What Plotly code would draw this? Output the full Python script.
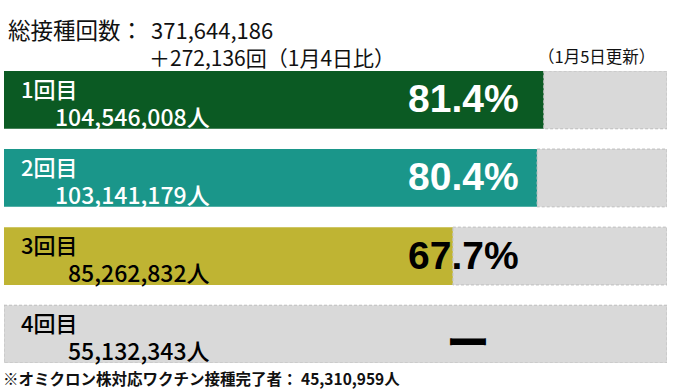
import plotly.graph_objects as go

# ---- data ----
doses = ["1回目", "2回目", "3回目", "4回目"]
people = ["104,546,008人", "103,141,179人", "85,262,832人", "55,132,343人"]
rates = [81.4, 80.4, 67.7, None]
rate_labels = ["81.4%", "80.4%", "67.7%", "ー"]
bar_colors = ["#0b5a23", "#1a968a", "#bfb433", "#d9d9d9"]
text_colors = ["#ffffff", "#ffffff", "#000000", "#000000"]
rate_text_colors = ["#ffffff", "#ffffff", "#000000", "#000000"]
total_label = "総接種回数："
total_value = "371,644,186"
diff_text = "＋272,136回（1月4日比）"
update_text = "（1月5日更新）"
foot_text = "※オミクロン株対応ワクチン接種完了者： 45,310,959人"

W, H = 679, 392
ML, MR, MT, MB = 4, 12, 71, 29
BAR_W = 0.74
YMIN, YMAX = -0.37, 3.37
PW = W - ML - MR
PH = H - MT - MB
CJK = "Noto Sans CJK JP"

def px_x(px):  # pixel -> data x (0..100)
    return (px - ML) / PW * 100

def px_dy(px):
    return px / PH * (YMAX - YMIN)

ypos = list(range(len(doses)))
bases = [r if r is not None else 0 for r in rates]

fig = go.Figure()
fig.add_trace(go.Bar(
    y=ypos, x=[100 - b for b in bases], base=bases, orientation="h",
    width=BAR_W, marker=dict(color="#d9d9d9", line=dict(width=0)),
    hoverinfo="skip", showlegend=False))
fig.add_trace(go.Bar(
    y=ypos, x=rates, orientation="h", width=BAR_W,
    marker=dict(color=bar_colors, line=dict(width=0)),
    hoverinfo="skip", showlegend=False))

shapes = []
for i, b in zip(ypos, bases):
    shapes.append(dict(type="rect", xref="x", yref="y", x0=b, x1=100,
                       y0=i - BAR_W / 2, y1=i + BAR_W / 2,
                       line=dict(color="#bdbdbd", width=1, dash="3px,2px"),
                       fillcolor="rgba(0,0,0,0)", layer="above"))

ann = []
for i in ypos:
    top = i - BAR_W / 2
    ann.append(dict(x=px_x(19), y=top + px_dy(17), xref="x", yref="y",
                    text=doses[i], showarrow=False, xanchor="left", yanchor="middle",
                    font=dict(family=CJK, size=22, weight=500, color=text_colors[i])))
    ann.append(dict(x=px_x(212), y=top + px_dy(45), xref="x", yref="y",
                    text=people[i], showarrow=False, xanchor="right", yanchor="middle",
                    font=dict(family=CJK, size=23, weight=500, color=text_colors[i])))
    if rates[i] is not None:
        ann.append(dict(x=px_x(463), y=i, xref="x", yref="y", yshift=1,
                        text="<b>" + rate_labels[i] + "</b>", showarrow=False,
                        xanchor="center", yanchor="middle",
                        font=dict(family="Liberation Sans", size=39, color=rate_text_colors[i])))
    else:
        ann.append(dict(x=px_x(468), y=i + px_dy(6), xref="x", yref="y",
                        text="<b>" + rate_labels[i] + "</b>", showarrow=False,
                        xanchor="center", yanchor="middle",
                        font=dict(family=CJK, size=44, color=rate_text_colors[i])))

def paper_x(px):
    return (px - ML) / PW

def paper_y(py):
    return (H - MB - py) / PH

ann.append(dict(x=paper_x(6), y=paper_y(29), xref="paper", yref="paper", text=total_label,
                showarrow=False, xanchor="left", yanchor="middle",
                font=dict(family=CJK, size=22.5, color="#111111")))
ann.append(dict(x=paper_x(149), y=paper_y(29), xref="paper", yref="paper", text=total_value,
                showarrow=False, xanchor="left", yanchor="middle",
                font=dict(family=CJK, size=22, color="#111111")))
ann.append(dict(x=paper_x(147), y=paper_y(57), xref="paper", yref="paper", text=diff_text,
                showarrow=False, xanchor="left", yanchor="middle",
                font=dict(family=CJK, size=21, color="#111111")))
ann.append(dict(x=paper_x(536), y=paper_y(56), xref="paper", yref="paper", text=update_text,
                showarrow=False, xanchor="left", yanchor="middle",
                font=dict(family=CJK, size=16.5, color="#111111")))
ann.append(dict(x=paper_x(1), y=paper_y(378), xref="paper", yref="paper", text="<b>" + foot_text + "</b>",
                showarrow=False, xanchor="left", yanchor="middle",
                font=dict(family=CJK, size=15.5, color="#111111")))

fig.update_layout(
    width=W, height=H, margin=dict(l=ML, r=MR, t=MT, b=MB, autoexpand=False),
    paper_bgcolor="white", plot_bgcolor="white", barmode="overlay",
    xaxis=dict(range=[0, 100], visible=False, fixedrange=True),
    yaxis=dict(range=[YMAX, YMIN], visible=False, fixedrange=True),
    shapes=shapes, annotations=ann, showlegend=False)

fig.write_html("out.html", config={"displayModeBar": False},
               post_script="document.body.style.margin='0';document.body.style.overflow='hidden';")
